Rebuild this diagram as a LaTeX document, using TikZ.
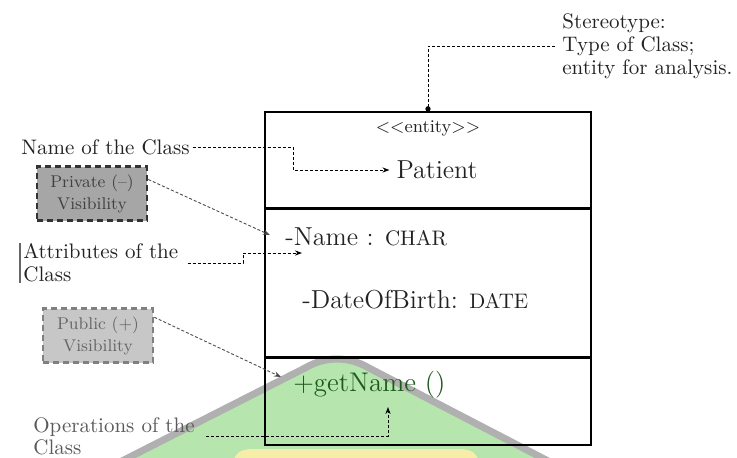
\documentclass[tikz,border=0pt]{standalone}
\usetikzlibrary{arrows.meta}
\definecolor{wmgreen}{HTML}{B6E5AE}
\definecolor{wmgray}{HTML}{B0B0B0}
\definecolor{wmyellow}{HTML}{F5EDA8}
\definecolor{opgreen}{HTML}{1E5A1E}
\definecolor{inkgray}{HTML}{222222}
\newcommand{\fsz}[2]{\fontsize{#1}{#2}\selectfont}
\tikzset{
  lbl/.style={inner xsep=1.5pt, inner ysep=0pt, align=left, text=inkgray, font=\fsz{10.5}{11.5}},
  note/.style={draw, line width=1.3pt, dash pattern=on 3pt off 2pt, minimum width=55pt,
    minimum height=27pt, inner sep=1pt, align=center, font=\fsz{8.5}{11}},
  comp/.style={draw, line width=0.55pt, minimum width=163pt, inner sep=0pt},
  link/.style={line width=0.45pt, dash pattern=on 1.5pt off 1pt,
    -{Stealth[length=3.5pt, width=2.6pt]}},
}
\begin{document}
\begin{tikzpicture}[x=0.5pt, y=-0.5pt]
  \useasboundingbox (0,0) rectangle (737,457);
  % WATERMARK
  \begin{scope}
    \clip (0,0) rectangle (737,457);
    \fill[wmgreen] (118,463) -- (305,368) .. controls (325,356) and (349,356) .. (369,368) -- (552,463) -- cycle;
    \fill[wmyellow] (232,463) .. controls (238,451) .. (250,449) -- (462,449) .. controls (474,451) .. (480,463) -- cycle;
    \draw[wmgray, line width=3.5pt] (118,463) -- (305,368) .. controls (325,356) and (349,356) .. (369,368) -- (552,463);
  \end{scope}
  % CLASS BOX
  \node[comp, minimum height=48pt] (topBox) at (428,160) {};
  \node[comp, minimum height=74.5pt] (midBox) at (428,282.5) {};
  \node[comp, minimum height=44pt] (botBox) at (428,401) {};
  \draw[line width=1.3pt] (topBox.south west) -- (topBox.south east);
  \draw[line width=1.3pt] (midBox.south west) -- (midBox.south east);
  \node[inner sep=0, text=inkgray, font=\fsz{9}{11}] (stereoTag) at (428,128)
    {\textless\kern0pt\textless entity\textgreater\kern0pt\textgreater};
  \node[text=inkgray, font=\fsz{13}{15}] (patient) at (437,170) {Patient};
  \node[anchor=west, inner sep=0, text=inkgray, font=\fsz{13}{15}] (attrName) at (285,237) {-Name : {\fsz{10.5}{12}CHAR}};
  \node[anchor=west, inner sep=0, text=inkgray, font=\fsz{13}{15}] (attrDob) at (302,300) {-DateOfBirth: {\fsz{10.5}{12}DATE}};
  \node[anchor=west, inner sep=0, text=opgreen, font=\fsz{13.5}{15}] (opName) at (293,385) {+getName ()};
  % LABELS
  \node[lbl, inner xsep=3.5pt, anchor=west] (stereo) at (555,46) {Stereotype:\\Type of Class;\\entity for analysis.};
  \node[lbl, anchor=west] (nameLbl) at (18,147) {Name of the Class};
  \node[note, fill=black!35, draw=black!80, text=black!75] (privBox) at (92,193.5) {Private (--)\\Visibility};
  \node[lbl, anchor=west] (attrLbl) at (20,263) {Attributes of the\\Class};
  \draw[black!60, line width=0.6pt] (attrLbl.north west) -- (attrLbl.south west);
  \node[note, fill=black!22, draw=black!50, text=black!60] (pubBox) at (98,335.5) {Public (+)\\Visibility};
  \node[lbl, anchor=west, text=black!65, font=\fsz{10.5}{11}] (opsLbl) at (30,436) {Operations of the\\Class};
  % CONNECTORS
  \coordinate (nameTurn) at (293,160);
  \coordinate (privTip) at (270,235);
  \coordinate (attrTurn) at (243,253);
  \coordinate (attrTip) at (302,253);
  \coordinate (pubTip) at (281,377);
  \coordinate (opsTip) at (388,407);
  \draw[link, -{Circle[length=2.6pt]}] (stereo.west) -| (topBox.north);
  \draw[link] (nameLbl.east) -| (nameTurn) |- (patient.west);
  \draw[link, black!70] (privBox.14) -- (privTip);
  \draw[link, shorten <=3pt] (attrLbl.east) -| (attrTurn) |- (attrTip);
  \draw[link, black!70] (pubBox.18) -- (pubTip);
  \draw[link, shorten <=4pt] (opsLbl.east) -| (opsTip);
\end{tikzpicture}
\end{document}
